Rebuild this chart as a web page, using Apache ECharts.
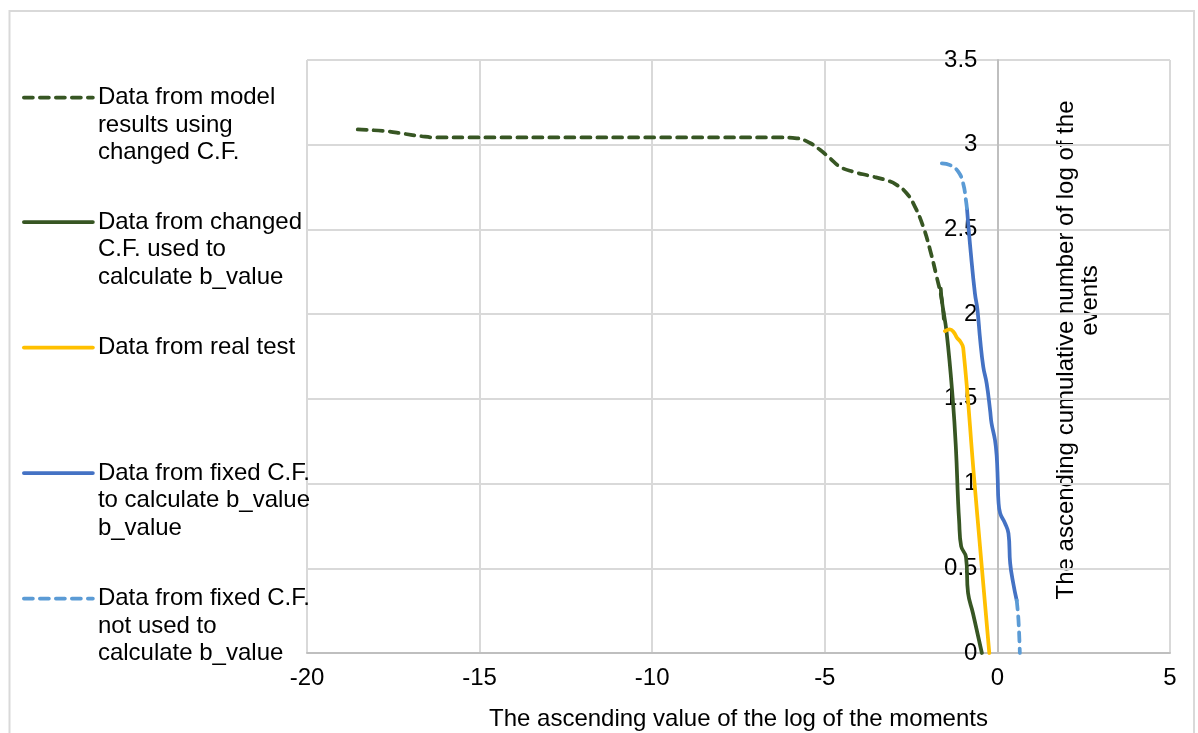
<!DOCTYPE html>
<html>
<head>
<meta charset="utf-8">
<script src="https://cdn.jsdelivr.net/npm/echarts@6/dist/echarts.min.js"></script>
<style>
  html, body { margin: 0; padding: 0; background: #ffffff; }
  #chart { width: 1198px; height: 733px; }
</style>
</head>
<body>
<div id="chart"></div>
<script>
// ---------- data ----------
const xMin = -20, xMax = 5, xInterval = 5;
const yMin = 0, yMax = 3.5, yInterval = 0.5;

const seriesNames = [
  'Data from model results using changed C.F.',
  'Data from changed C.F. used to calculate b_value',
  'Data from real test',
  'Data from fixed C.F. to calculate b_value b_value',
  'Data from fixed C.F. not used to calculate b_value'
];
const legendLabels = [
  'Data from model\nresults using\nchanged C.F.',
  'Data from changed\nC.F. used to\ncalculate b_value',
  'Data from real test',
  'Data from fixed C.F.\nto calculate b_value\nb_value',
  'Data from fixed C.F.\nnot used to\ncalculate b_value'
];

const xAxisTitle = 'The ascending value of the log of the moments';
const yAxisTitleLines = ['The ascending cumulative number of log of the', 'events'];

// model results using changed C.F. (dashed dark green)
const modelChangedCF = [
  [-18.53, 3.09], [-17.72, 3.08], [-17.2, 3.065], [-16.69, 3.05], [-16.27, 3.043],
  [-6.3, 3.043], [-5.81, 3.038], [-5.43, 3.01], [-5.14, 2.97], [-4.85, 2.92],
  [-4.56, 2.87], [-4.17, 2.84], [-3.69, 2.816], [-3.21, 2.79], [-2.92, 2.763],
  [-2.63, 2.714], [-2.39, 2.635], [-2.15, 2.517], [-1.95, 2.379], [-1.76, 2.221],
  [-1.61, 2.084], [-1.55, 1.966]
];
// changed C.F. used to calculate b_value (solid dark green)
const changedCFUsed = [
  [-1.64, 2.15], [-1.61, 2.08], [-1.47, 1.89], [-1.29, 1.49], [-1.2, 1.2],
  [-1.14, 0.9], [-1.11, 0.785], [-1.05, 0.63], [-0.91, 0.567], [-0.85, 0.354],
  [-0.71, 0.236], [-0.45, 0]
];
// real test (yellow)
const realTest = [
  [-1.52, 1.9], [-1.38, 1.91], [-1.27, 1.895], [-1.17, 1.86], [-1.08, 1.84],
  [-0.99, 1.8], [-0.67, 1.02], [-0.235, 0]
];
// fixed C.F. used to calculate b_value (solid blue)
const fixedCFUsed = [
  [-0.88, 2.62], [-0.77, 2.36], [-0.65, 2.12], [-0.58, 2.03], [-0.5, 1.85],
  [-0.41, 1.69], [-0.31, 1.59], [-0.21, 1.43], [-0.17, 1.356], [-0.07, 1.257],
  [-0.02, 1.16], [0.01, 1.02], [0.03, 0.9], [0.08, 0.825], [0.22, 0.766],
  [0.32, 0.707], [0.37, 0.53], [0.46, 0.41], [0.56, 0.31]
];
// fixed C.F. not used (dashed light blue, two pieces)
const fixedCFNotUsedTop = [
  [-1.61, 2.89], [-1.37, 2.88], [-1.13, 2.84], [-0.99, 2.77], [-0.91, 2.67], [-0.88, 2.62]
];
const fixedCFNotUsedBottom = [
  [0.56, 0.31], [0.61, 0.195], [0.65, 0]
];

// ---------- styling ----------
const FONT = '"Liberation Sans", Arial, Helvetica, sans-serif';
const FS = 24;
const LH = 27.5;
const colors = ['#375623', '#375623', '#FFC000', '#4472C4', '#5B9BD5'];
const dashes = [[9, 7], 'solid', 'solid', 'solid', [9, 7]];
const LW = 3.75;

const legendIconY = [97.5, 222, 347.5, 473, 598.5];

const legends = legendLabels.map(function (lab, i) {
  const n = lab.split('\n').length;
  // leading empty lines so the icon sits on the first text line
  let shown = lab;
  for (let k = 1; k < n; k++) shown = '\n' + shown;
  return {
    left: 22,
    top: legendIconY[i] - (2 * n - 1) * LH / 2,
    orient: 'vertical',
    padding: 0,
    itemWidth: 69,
    itemHeight: 14,
    selectedMode: false,
    data: [seriesNames[i]],
    formatter: function () { return shown; },
    itemStyle: { opacity: 0, color: 'rgba(0,0,0,0)', borderWidth: 0 },
    lineStyle: { color: colors[i], width: LW, type: dashes[i], cap: 'round', opacity: 1 },
    textStyle: {
      fontFamily: FONT,
      fontSize: FS,
      color: '#000',
      lineHeight: LH
    }
  };
});

function lineSeries(name, data, i, z) {
  return {
    name: name,
    type: 'line',
    data: data,
    showSymbol: false,
    symbol: 'none',
    smooth: 0.45,
    z: z,
    lineStyle: {
      color: colors[i],
      width: LW,
      type: dashes[i],
      cap: 'round',
      join: 'round'
    },
    itemStyle: { color: colors[i] },
    emphasis: { disabled: true },
    animation: false
  };
}

const gridLeft = 307, gridRight = 28, chartW = 1198;
const plotW = chartW - gridLeft - gridRight;
const zeroOffset = plotW * (0 - xMin) / (xMax - xMin);

const chart = echarts.init(document.getElementById('chart'), null, { renderer: 'canvas' });

chart.setOption({
  backgroundColor: '#ffffff',
  animation: false,
  textStyle: { fontFamily: FONT },
  grid: {
    left: gridLeft, right: gridRight, top: 60, bottom: 80,
    containLabel: false, outerBoundsMode: 'none'
  },
  legend: legends,
  xAxis: {
    type: 'value',
    min: xMin, max: xMax, interval: xInterval,
    name: xAxisTitle,
    nameLocation: 'middle',
    nameGap: 54,
    nameTextStyle: { fontFamily: FONT, fontSize: FS, color: '#000' },
    axisLine: { show: true, onZero: false, lineStyle: { color: '#bfbfbf', width: 2 } },
    axisTick: { show: false },
    axisLabel: { fontFamily: FONT, fontSize: FS, color: '#000', margin: 13 },
    splitLine: { show: true, lineStyle: { color: '#d9d9d9', width: 2 } }
  },
  yAxis: {
    type: 'value',
    position: 'left',
    offset: -zeroOffset,
    min: yMin, max: yMax, interval: yInterval,
    axisLine: { show: true, onZero: false, lineStyle: { color: '#bfbfbf', width: 2 } },
    axisTick: { show: false },
    axisLabel: { fontFamily: FONT, fontSize: FS, color: '#000', margin: 20 },
    splitLine: { show: true, lineStyle: { color: '#d9d9d9', width: 2 } }
  },
  graphic: [
    {
      type: 'rect', silent: true, z: -10,
      shape: { x: 9.5, y: 11, width: 1184.5, height: 760 },
      style: { fill: 'none', stroke: '#d9d9d9', lineWidth: 2 }
    },
    {
      type: 'text', x: 1066, y: 350, rotation: Math.PI / 2,
      style: {
        text: yAxisTitleLines[0], font: FS + 'px ' + FONT, fill: '#000',
        align: 'center', verticalAlign: 'middle',
        textAlign: 'center', textVerticalAlign: 'middle'
      }
    },
    {
      type: 'text', x: 1090, y: 300.5, rotation: Math.PI / 2,
      style: {
        text: yAxisTitleLines[1], font: FS + 'px ' + FONT, fill: '#000',
        align: 'center', verticalAlign: 'middle',
        textAlign: 'center', textVerticalAlign: 'middle'
      }
    }
  ],
  series: [
    lineSeries(seriesNames[0], modelChangedCF, 0, 3),
    lineSeries(seriesNames[1], changedCFUsed, 1, 3),
    lineSeries(seriesNames[2], realTest, 2, 3),
    lineSeries(seriesNames[3], fixedCFUsed, 3, 4),
    lineSeries(seriesNames[4], fixedCFNotUsedTop, 4, 5),
    lineSeries(seriesNames[4], fixedCFNotUsedBottom, 4, 5)
  ]
});
</script>
</body>
</html>
